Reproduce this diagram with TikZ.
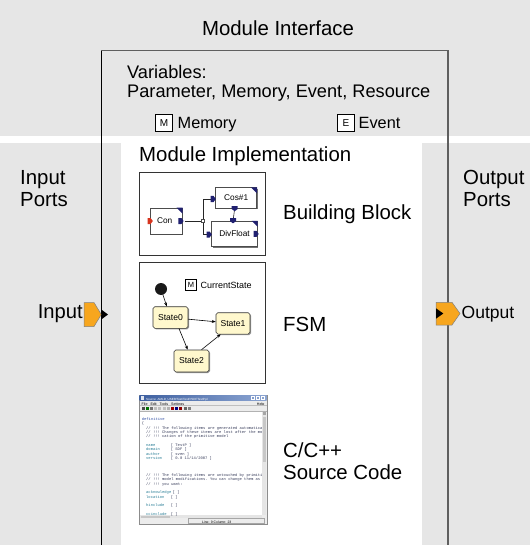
\documentclass[tikz,border=0pt]{standalone}
\usepackage{fontspec}
\setmainfont{Liberation Sans}
\setmonofont{Liberation Mono}
\usetikzlibrary{arrows.meta,shadows}

\definecolor{panelgrey}{RGB}{230,230,230}
\definecolor{frameline}{RGB}{95,95,95}
\definecolor{portorange}{RGB}{247,166,30}
\definecolor{portnavy}{RGB}{32,32,112}
\definecolor{portred}{RGB}{215,52,30}
\definecolor{statefill}{RGB}{255,248,205}
\definecolor{titleblue}{RGB}{62,96,160}
\definecolor{titlelight}{RGB}{140,165,210}
\definecolor{winbar}{RGB}{236,236,236}
\definecolor{codeblue}{RGB}{50,80,165}
\definecolor{codeteal}{RGB}{40,125,150}
\definecolor{codegrey}{RGB}{55,60,90}

\newcommand\fsz[1]{\fontsize{#1}{#1}\selectfont}

\tikzset{
  bigtext/.style={font=\fsz{20.4}, inner sep=0, anchor=mid west},
  midtext/.style={font=\fsz{16.3}, inner sep=0, anchor=mid west},
  varbox/.style={draw=black, line width=0.7, fill=white, minimum size=#1, inner sep=0},
  varbox/.default=17,
  panel/.style={draw=black!80, line width=1.3, fill=white},
  blk/.style={draw=black!70, line width=0.6, fill=white, inner sep=0,
    font=\fsz{8.3}, general shadow={fill=black!55, shadow xshift=1.1pt, shadow yshift=-1.1pt}},
  state/.style={draw=black!80, line width=0.6, fill=statefill, rounded corners=1.8,
    inner sep=0, minimum width=35, minimum height=21.6, font=\fsz{8.6},
    general shadow={fill=black!40, rounded corners=1.8, shadow xshift=1pt, shadow yshift=-1pt}},
  wire/.style={draw=black!85, line width=0.6},
  trans/.style={draw=black, line width=0.6, -{Stealth[length=4pt,width=3pt]}},
  code/.style={font=\ttfamily\fsz{3.8}, inner sep=0, anchor=mid west},
  navyport/.pic={\fill[portnavy] (-2.6,-3) -- (0.4,-3) -- (2.6,0) -- (0.4,3) -- (-2.6,3) -- cycle;},
  redport/.pic={\fill[portred] (-2.6,-3) -- (0.4,-3) -- (2.6,0) -- (0.4,3) -- (-2.6,3) -- cycle;},
  downport/.pic={\fill[portnavy] (-3,-2.6) -- (-3,0.4) -- (0,2.6) -- (3,0.4) -- (3,-2.6) -- cycle;},
  corner/.pic={\fill[portnavy] (-6,0) -- (0,0) -- (0,6) -- cycle;},
}

\begin{document}
\begin{tikzpicture}[x=1pt,y=-1pt]
\useasboundingbox (0,0) rectangle (530,545);

% grey bands: interface on top, ports on both sides
\fill[panelgrey] (0,0) rectangle (530,136.5);
\fill[panelgrey] (0,143.5) rectangle (121,545);
\fill[panelgrey] (422,143.5) rectangle (530,545);

% module outline, open at the bottom
\coordinate (boxbl) at (101.3,545);
\coordinate (boxtl) at (101.3,50.7);
\coordinate (boxtr) at (448,50.7);
\coordinate (boxbr) at (448,545);
\draw[frameline, line width=1.5] (boxtl) -- (boxtr) -- (boxbr);
\draw[black, line width=1.3] (boxbl) -- (boxtl);

% interface texts
\node[font=\fsz{20.4}, inner sep=0] (ifacetitle) at (278,28) {Module Interface};
\node[font=\fsz{18.2}, inner sep=0, anchor=mid west] (varhead) at (127,75.5) {Variables:};
\node[font=\fsz{18.2}, inner sep=0, anchor=mid west] (varlist) at (127,94.5) {Parameter, Memory, Event, Resource};
\node[varbox, font=\fsz{10}] (mbox) at (164,123) {M};
\node[midtext] (memlab) at (177.5,125.5) {Memory};
\node[varbox, font=\fsz{10}] (ebox) at (346,123) {E};
\node[midtext] (evlab) at (358.5,125.5) {Event};

\node[bigtext] (impltitle) at (139,159) {Module Implementation};
\node[bigtext] (inports1) at (20,181.5) {Input};
\node[bigtext] (inports2) at (20,203.5) {Ports};
\node[bigtext] (outports1) at (463,181.5) {Output};
\node[bigtext] (outports2) at (463,203.5) {Ports};

\node[bigtext] (bblab) at (283,217) {Building Block};
\node[bigtext] (fsmlab) at (283,329) {FSM};
\node[bigtext] (srclab1) at (283,455) {C/C++};
\node[bigtext] (srclab2) at (283,477) {Source Code};

% input port
\node[font=\fsz{20.2}, inner sep=0, anchor=mid east] (inlab) at (83,316) {Input};
\coordinate (intip) at (101.3,314.5);
\filldraw[fill=portorange, draw=black!50, line width=0.5]
  (84,302.5) -- (94,302.5) -- (intip) -- (94,326.5) -- (84,326.5) -- cycle;
\fill[black] (101.3,309.5) -- (108,314.5) -- (101.3,319.5) -- cycle;

% output port
\node[font=\fsz{17.5}, inner sep=0, anchor=mid west] (outlab) at (461.5,315.5) {Output};
\coordinate (outtip) at (460,313.5);
\filldraw[fill=portorange, draw=black!50, line width=0.5]
  (436,302.3) -- (452,302.3) -- (outtip) -- (452,325) -- (436,325) -- cycle;
\fill[black] (436,308.3) -- (443.3,313.5) -- (436,318.7) -- cycle;

% ---------- building block panel ----------
\node[panel, minimum width=126, minimum height=83, inner sep=0] (bbpanel) at (202.5,214) {};
\node[blk, minimum width=31.6, minimum height=26] (con) at (166.5,221) {\hspace*{-3.5pt}Con};
\node[blk, minimum width=41, minimum height=20.6] (cos) at (236.2,198) {Cos\#1};
\node[blk, minimum width=45.6, minimum height=25.7] (div) at (234.5,233.9) {DivFloat};
\pic at (con.north east) {corner};
\pic at (cos.north east) {corner};
\pic at (div.north east) {corner};

\coordinate (junc) at (203,221);
\coordinate (cosin) at (213.2,199);
\coordinate (divin) at (209.2,234.5);
\draw[wire] ([xshift=2pt]con.east) -- (junc) |- (cosin);
\draw[wire] (junc) |- (divin);
\draw[wire] ([xshift=-1.5pt]cos.south) -- ([xshift=-1.5pt]div.north);
\node[draw=black!70, fill=white, line width=0.5, minimum size=3.2, inner sep=0] (juncbox) at (junc) {};

\pic at ([xshift=-0.2pt]con.west) {redport};
\pic at ([xshift=-1.6pt]con.east) {navyport};
\pic at (cosin) {navyport};
\pic at ([xshift=-1.5pt]cos.south) {downport};
\pic at ([xshift=-1.5pt]div.north) {downport};
\pic at (divin) {navyport};
\pic at ([xshift=-1.5pt]div.east) {navyport};

% ---------- FSM panel ----------
\node[panel, minimum width=126, minimum height=121, inner sep=0] (fsmpanel) at (202.5,323) {};
\node[circle, fill=black!90, minimum size=12, inner sep=0] (init) at (161,289) {};
\node[varbox=11.5, font=\fsz{7.5}] (curbox) at (191,285) {M};
\node[font=\fsz{9}, inner sep=0, anchor=mid west] (curlab) at (200.5,285.5) {CurrentState};
\node[state] (s0) at (170.5,317.5) {State0};
\node[state, minimum width=34, minimum height=21.3] (s1) at (233,323.4) {State1};
\node[state, minimum height=22] (s2) at (191.5,361) {State2};
\draw[trans] (init) -- (s0);
\draw[trans] (s0) -- (s1);
\draw[trans] ([xshift=8.5pt]s0.south) -- ([xshift=-3.8pt]s2.north);
\draw[trans] ([xshift=10pt]s2.north) -- ([xshift=-12.3pt]s1.south);

% ---------- source editor window ----------
\node[draw=black!45, fill=winbar, line width=0.5, minimum width=128, minimum height=129.5, inner sep=0] (editor) at (203,459.75) {};
\shade[left color=titleblue, right color=titlelight] (139.5,395.3) rectangle (266.5,400.6);
\fill[white!85!titleblue] (141,396.3) rectangle (144,399.6);
\node[font=\fsz{3}, text=white, inner sep=0, anchor=mid west] (wintitle) at (146,398) {Source: AMLD\_USER/Test/TestP/SDFTestP.pl};
\foreach \bx in {251,256,261}
  \draw[white, line width=0.3] (\bx,396.5) rectangle (\bx+3.6,399.5);
\node[font=\fsz{3.6}, inner sep=0, anchor=mid west] (winmenu) at (141.5,403) {File\hspace{3pt}Edit\hspace{3pt}Tools\hspace{3pt}Settings};
\node[font=\fsz{3.6}, inner sep=0, anchor=mid east] (winhelp) at (264.5,403) {Help};
\draw[black!25, line width=0.3] (139.5,405.5) -- (266.5,405.5);
% toolbar icons
\foreach \ix/\ic in {141.5/black!70,145.5/green!45!black,149.5/black!55,153.5/black!25,157.5/black!25,
  163/black!25,167/black!30,171/red!60!black,175/blue!50!black,179/red!55!black,183.5/black!60,187.5/black!50}
  \fill[\ic] (\ix,406.8) rectangle (\ix+3,410.2);
\draw[black!30, line width=0.3] (139.5,411.3) -- (266.5,411.3);
% text area and scroll bars
\fill[white] (140,411.6) rectangle (262,515);
\fill[black!10] (262,411.6) rectangle (266.3,515);
\fill[black!22] (262.5,417) rectangle (265.8,462);
\fill[black!35] (262.5,411.8) rectangle (265.8,414.5);
\fill[black!10] (140,515) rectangle (262,518.3);
\fill[black!22] (141,515.5) rectangle (170,517.8);
\draw[black!35, line width=0.3] (188,518.6) rectangle (264,523.4);
\node[font=\fsz{3.4}, inner sep=0, anchor=mid west] (winstatus) at (202,521) {Line: 9 Column: 23};

\begin{scope}
\clip (140,411.6) rectangle (261.8,515);
\node[code, text=codeblue] (c01) at (141.7,418) {definitive};
\node[code, text=codegrey] (c02) at (141.7,422.3) {\{};
\node[code, text=codegrey] (c03) at (146,426.6) {// !!! The following items are generated automatically};
\node[code, text=codegrey] (c04) at (146,430.9) {// !!! Changes of these items are lost after the modifi};
\node[code, text=codegrey] (c05) at (146,435.2) {// !!! cation of the primitive model};
\node[code, text=codeteal] (k07) at (146,443.8) {name};
\node[code, text=codegrey] (v07) at (170.7,443.8) {[ TestP ]};
\node[code, text=codeteal] (k08) at (146,448.1) {domain};
\node[code, text=codegrey] (v08) at (170.7,448.1) {[ SDF ]};
\node[code, text=codeteal] (k09) at (146,452.4) {author};
\node[code, text=codegrey] (v09) at (170.7,452.4) {[ sven ]};
\node[code, text=codeteal] (k10) at (146,456.7) {version};
\node[code, text=codegrey] (v10) at (170.7,456.7) {[ 0.0 11/14/2007 ]};
\node[code, text=codegrey] (c14) at (146,473.9) {// !!! The following items are untouched by primitive};
\node[code, text=codegrey] (c15) at (146,478.2) {// !!! model modifications. You can change them as};
\node[code, text=codegrey] (c16) at (146,482.5) {// !!! you want:};
\node[code, text=codeteal] (k18) at (146,491.1) {acknowledge};
\node[code, text=codegrey] (v18) at (172.5,491.1) {[ ]};
\node[code, text=codeteal] (k19) at (146,495.4) {location};
\node[code, text=codegrey] (v19) at (170.7,495.4) {[ ]};
\node[code, text=codeteal] (k21) at (146,504) {hinclude};
\node[code, text=codegrey] (v21) at (170.7,504) {[ ]};
\node[code, text=codeteal] (k23) at (146,512.4) {ccinclude};
\node[code, text=codegrey] (v23) at (170.7,512.4) {[ ]};
\end{scope}

\end{tikzpicture}
\end{document}
